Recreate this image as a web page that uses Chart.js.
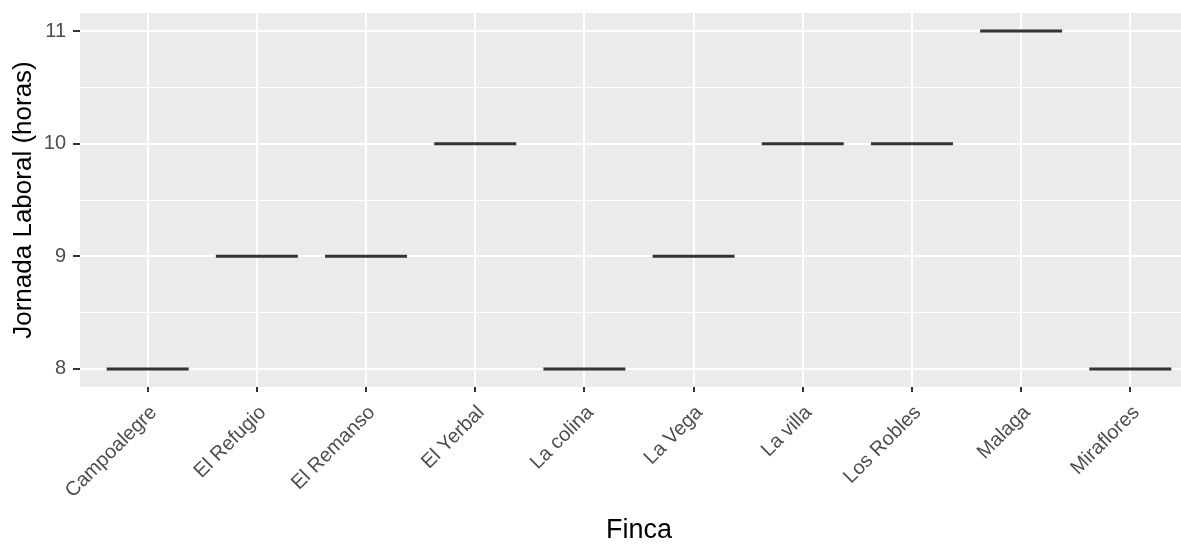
<!DOCTYPE html>
<html>
<head>
<meta charset="utf-8">
<script src="https://cdn.jsdelivr.net/npm/chart.js@4"></script>
<style>
  html, body { margin: 0; padding: 0; background: #fff; overflow: hidden; }
  #wrap { width: 1200px; height: 544px; }
</style>
</head>
<body>
<div id="wrap"><canvas id="myChart"></canvas></div>
<script>
const fincas = ['Campoalegre', 'El Refugio', 'El Remanso', 'El Yerbal', 'La colina', 'La Vega', 'La villa', 'Los Robles', 'Malaga', 'Miraflores'];
const jornada = [8, 9, 9, 10, 8, 9, 10, 10, 11, 8];
const yTicks = [8, 9, 10, 11];

const panelBg = {
  id: 'panelBg',
  beforeDraw(chart) {
    const a = chart.chartArea;
    const c = chart.ctx;
    c.save();
    c.fillStyle = '#EBEBEB';
    c.fillRect(a.left, a.top, a.right - a.left, a.bottom - a.top);
    c.restore();
  }
};

const ctx = document.getElementById('myChart');

new Chart(ctx, {
  type: 'scatter',
  data: {
    datasets: [{
      data: jornada.map((v, i) => ({ x: i, y: v })),
      pointStyle: 'line',
      pointRadius: 41,
      pointHoverRadius: 41,
      pointBorderWidth: 3,
      pointHoverBorderWidth: 3,
      borderColor: '#333333',
      backgroundColor: '#333333'
    }]
  },
  options: {
    responsive: true,
    maintainAspectRatio: false,
    animation: false,
    events: [],
    layout: { autoPadding: false, padding: { top: 13, right: 2, bottom: 0, left: 0 } },
    plugins: { legend: { display: false }, tooltip: { enabled: false } },
    scales: {
      x: {
        type: 'linear',
        min: -0.62,
        max: 9.62,
        border: { display: false },
        grid: { color: '#FFFFFF', lineWidth: 2, tickColor: '#333333', tickLength: 5 },
        ticks: {
          stepSize: 1,
          includeBounds: false,
          autoSkip: false,
          minRotation: 45,
          maxRotation: 45,
          padding: 9,
          labelOffset: 6,
          color: '#4D4D4D',
          font: { family: "'Liberation Sans', Arial", size: 20 },
          callback: (v) => Number.isInteger(v) ? fincas[v] : ''
        },
        title: {
          display: true,
          text: 'Finca',
          color: '#000000',
          font: { family: "'Liberation Sans', Arial", size: 27 },
          padding: { top: 0, bottom: -3 }
        },
        afterFit(scale) {
          scale.height = 157;
          scale.paddingLeft = 0;
          scale.paddingRight = 0;
        }
      },
      y: {
        min: 7.84,
        max: 11.16,
        border: { display: false },
        grid: {
          color: '#FFFFFF',
          lineWidth: (c) => (c.tick && Number.isInteger(c.tick.value)) ? 2 : 1,
          tickColor: (c) => (c.tick && Number.isInteger(c.tick.value)) ? '#333333' : 'rgba(0,0,0,0)',
          tickLength: 7
        },
        ticks: {
          stepSize: 0.5,
          includeBounds: false,
          padding: 7,
          color: '#4D4D4D',
          font: { family: "'Liberation Sans', Arial", size: 20 },
          callback: (v) => yTicks.includes(v) ? String(v) : ''
        },
        title: {
          display: true,
          text: 'Jornada Laboral (horas)',
          color: '#000000',
          font: { family: "'Liberation Sans', Arial", size: 26 },
          padding: { top: 8, bottom: 0 }
        },
        afterFit(scale) {
          scale.width = 80;
          scale.paddingTop = 0;
          scale.paddingBottom = 0;
        }
      }
    }
  },
  plugins: [panelBg]
});
</script>
</body>
</html>
